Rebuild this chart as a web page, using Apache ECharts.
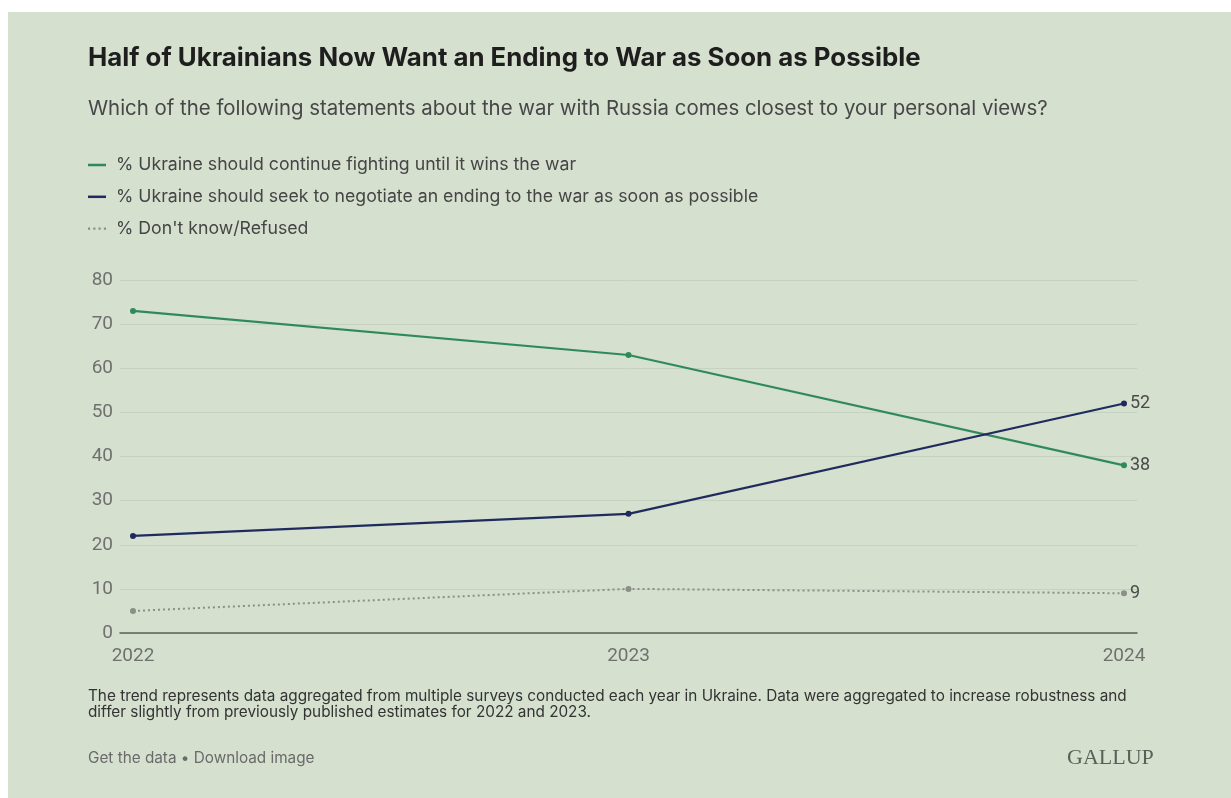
<!DOCTYPE html>
<html><head><meta charset="utf-8">
<script src="https://cdn.jsdelivr.net/npm/echarts@6/dist/echarts.min.js"></script>
<style>
html,body{margin:0;padding:0;background:#fff;}
#card{position:absolute;left:8px;top:12px;width:1223px;height:786px;background:#d5e0cf;}
#c{position:absolute;left:0;top:0;width:1231px;height:798px;}
</style></head>
<body><div id="card"></div><div id="c"></div>
<script>
const years = [2022, 2023, 2024];
const continueFighting = [73, 63, 38];
const negotiate = [22, 27, 52];
const dontKnow = [5, 10, 9];
const yTicks = [0, 10, 20, 30, 40, 50, 60, 70, 80];
const seriesNames = [
  '% Ukraine should continue fighting until it wins the war',
  '% Ukraine should seek to negotiate an ending to the war as soon as possible',
  "% Don't know/Refused"
];
const colors = ['#2f8a5a', '#1f2b5e', '#8a8f88'];

const chart = echarts.init(document.getElementById('c'));
const pad = 13 / 991 * 2;
function mk(name, vals, color, dotted) {
  return {
    name: name, type: 'line',
    data: vals.map((v, i) => [years[i], v]),
    symbol: 'circle', symbolSize: 6,
    itemStyle: { color: color },
    lineStyle: { color: color, width: dotted ? 2 : 2.2, type: dotted ? [2, 3] : 'solid' },
    endLabel: { show: true, formatter: p => String(p.value[1]), color: '#4a4a4a', fontSize: 18, distance: 6, fontFamily: 'Roboto' },
    emphasis: { disabled: true },
    z: dotted ? 2 : 3
  };
}
chart.setOption({
  animation: false,
  title: [
    { text: 'Half of Ukrainians Now Want an Ending to War as Soon as Possible', left: 88, top: 45.5, padding: 0,
      textStyle: { fontFamily: 'Inter', fontWeight: 'bold', fontSize: 25.8, color: '#1e1e1e' } },
    { text: 'Which of the following statements about the war with Russia comes closest to your personal views?', left: 88, top: 98.5, padding: 0,
      textStyle: { fontFamily: 'Inter', fontWeight: 'normal', fontSize: 20.4, color: '#474747' } }
  ],
  legend: {
    orient: 'vertical', left: 88, top: 156, padding: 0, itemGap: 13.8, itemWidth: 18, itemHeight: 2.5,
    textStyle: { fontFamily: 'Inter', fontSize: 17.7, color: '#454545', padding: [0, 0, 0, 5] },
    data: [
      { name: seriesNames[0], icon: 'rect', itemStyle: { color: colors[0] } },
      { name: seriesNames[1], icon: 'rect', itemStyle: { color: colors[1] } },
      { name: seriesNames[2], icon: 'path://M0,0h2v2h-2z M5,0h2v2h-2z M10,0h2v2h-2z M15,0h2v2h-2z', itemStyle: { color: colors[2] } }
    ],
    selectedMode: false
  },
  grid: { left: 120, right: 94, top: 280, bottom: 165 },
  xAxis: {
    type: 'value', min: years[0] - pad, max: years[years.length - 1] + pad,
    axisLine: { show: true, lineStyle: { color: '#566552', width: 1.5 } },
    axisTick: { show: false },
    splitLine: { show: false },
    axisLabel: { customValues: years, formatter: v => String(Math.round(v)), color: '#707070', fontSize: 19, margin: 14, fontFamily: 'Roboto' }
  },
  yAxis: {
    type: 'value', min: yTicks[0], max: yTicks[yTicks.length - 1], interval: 10,
    axisLine: { show: false }, axisTick: { show: false },
    splitLine: { lineStyle: { color: '#c6d2c1', width: 1 } },
    axisLabel: { color: '#707070', fontSize: 19, margin: 7, fontFamily: 'Roboto' }
  },
  series: [
    mk(seriesNames[0], continueFighting, colors[0], false),
    mk(seriesNames[1], negotiate, colors[1], false),
    mk(seriesNames[2], dontKnow, colors[2], true)
  ],
  graphic: [
    { type: 'text', left: 88, top: 689, style: { text: 'The trend represents data aggregated from multiple surveys conducted each year in Ukraine. Data were aggregated to increase robustness and\ndiffer slightly from previously published estimates for 2022 and 2023.', fontFamily: 'Inter', fontSize: 15.3, lineHeight: 15.5, fill: '#333' } },
    { type: 'text', left: 88, top: 751, style: { text: 'Get the data \u2022 Download image', fontFamily: 'Inter', fontSize: 15.3, fill: '#6a6a6a' } },
    { type: 'text', left: 1067, top: 747, style: { text: 'GALLUP', fontFamily: 'Liberation Serif', fontSize: 22, fill: '#5a5f58' } }
  ]
});
</script></body></html>
